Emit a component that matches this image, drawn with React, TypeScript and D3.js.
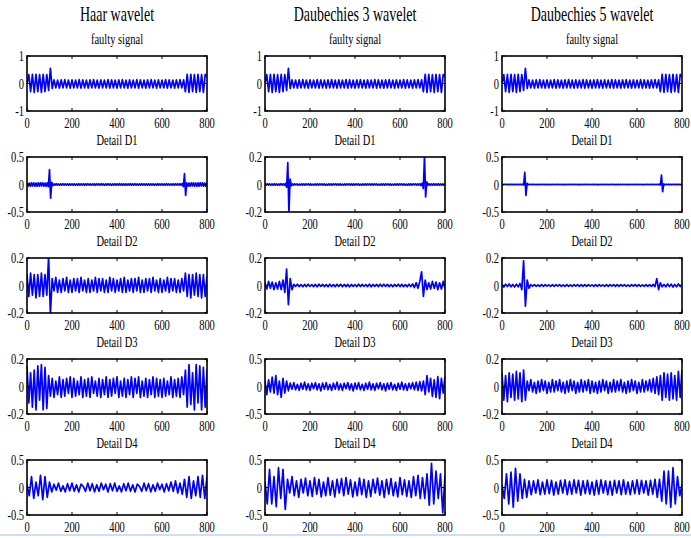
import React from "react";
import * as d3 from "d3";

const columnTitles = ["Haar wavelet", "Daubechies 3 wavelet", "Daubechies 5 wavelet"];
const rowTitles = ["faulty signal", "Detail D1", "Detail D2", "Detail D3", "Detail D4"];
const xTicks = [0, 200, 400, 600, 800];
// y half-range per row (faulty, D1..D4), per column (Haar, db3, db5)
const yLimits = [
  [1, 1, 1],
  [0.5, 0.2, 0.5],
  [0.2, 0.2, 0.2],
  [0.2, 0.5, 0.2],
  [0.5, 0.5, 0.5],
];

const faultySignal = [0,.32,-.3,.33,-.32,.33,-.3,.32,-.32,.33,-.3,.32,-.25,.55,-.18,
.13,-.16,.12,-.17,.13,-.16,.14,-.16,.12,-.17,
.13,-.16,.12,-.16,.14,-.17,.13,-.16,.12,-.17,
.13,-.16,.14,-.16,.12,-.17,.13,-.16,.12,-.16,
.14,-.17,.13,-.16,.12,-.17,.13,-.16,.14,-.16,
.12,-.17,.13,-.16,.12,-.16,.14,-.17,.13,-.16,
.12,-.17,.13,-.16,.14,-.16,.12,-.17,.13,-.16,
.12,-.16,.14,-.17,.13,-.16,.12,-.17,.13,-.16,
.14,-.16,.13,
-.3,.33,-.32,.33,-.3,.32,-.32,.33,-.3,.32,-.32,.33,.25];

const haarD1 = [.03,-.03,.025,-.03,.03,-.025,.03,-.03,.025,-.03,
.03,-.03,.03,-.025,.03,-.03,.025,-.03,.03,-.04,
.27,-.25,.04,-.02,
.012,-.01,.014,-.012,.01,-.013,.012,-.012,.014,-.01,
.012,-.012,.01,-.014,.012,-.01,.013,-.012,.012,-.014,
.01,-.012,.014,-.012,.012,-.01,.013,-.014,.012,-.012,
.014,-.01,.012,-.013,.01,-.012,.012,-.014,.013,-.01,
.012,-.012,.014,-.012,.01,-.013,.012,-.012,.014,-.01,
.012,-.014,.01,-.012,.013,-.012,.012,-.01,.014,-.012,
.01,-.012,.013,-.014,.012,-.01,.012,-.012,.014,-.013,
.012,-.01,.014,-.012,.01,-.013,.012,-.012,.014,-.01,
.012,-.012,.01,-.014,.012,-.01,.013,-.012,.012,-.014,
.01,-.012,.014,-.012,.012,-.01,.013,-.014,.012,-.012,
.014,-.01,.012,-.013,.01,-.012,.012,-.014,.013,-.01,
.014,-.012,.015,-.013,
.02,-.04,
.2,-.2,
.03,-.03,.025,-.03,.03,-.025,.03,-.03,.025,-.03,
.03,-.03,.03,-.025,.03,-.03,.025,-.03,.03];

const haarD2 = [.08,-.08,.09,-.07,.08,-.09,.08,-.08,.09,-.08,.08,-.07,
.21,-.21,
.05,-.04,.06,-.05,.04,-.05,.05,-.04,.06,-.05,
.04,-.05,.05,-.04,.05,-.05,.06,-.04,.04,-.05,
.05,-.05,.04,-.04,.06,-.05,.05,-.04,.05,-.05,
.04,-.05,.06,-.04,.05,-.05,.04,-.04,.05,-.05,
.06,-.05,.04,-.04,.05,-.05,.05,-.04,.06,-.05,
.04,-.05,.05,-.04,.05,-.05,.06,-.04,.04,-.05,
.05,-.05,.04,-.04,.06,-.05,.05,-.04,.05,-.05,
.04,-.05,.05,-.04,
.09,-.08,.08,-.09,.08,-.07,.09,-.08,.08,-.09,.08,-.08,.07];

const haarD3 = [.15,-.12,.1,-.15,.12,-.17,.15,-.1,.16,-.17,.14,-.16,.08,
-.07,.06,-.08,.04,-.06,.07,-.08,.05,-.07,.06,
-.05,.07,-.08,.06,-.07,.04,-.06,.07,-.08,.05,
-.07,.06,-.08,.07,-.05,.04,-.07,.06,-.08,.05,
-.06,.07,-.08,.05,-.07,.06,-.05,.07,-.08,.04,
-.07,.06,-.08,.05,-.06,.07,-.08,.06,-.05,.07,
-.08,.04,-.07,.06,-.08,.05,-.06,.07,-.08,.06,
-.07,.05,-.08,.06,-.07,.04,-.06,.07,-.08,.05,
-.07,.06,-.08,.07,-.06,
.12,-.15,.16,-.13,.1,-.17,.16,-.12,.15,-.17,.14,-.15,.12];

const haarD4 = [.05,-.15,.2,-.2,.1,-.15,.22,-.22,.2,-.18,.1,
-.08,.06,-.05,.08,-.07,.03,-.08,.07,-.06,.08,
-.07,.05,-.08,.06,.02,-.07,.08,-.06,.07,-.08,
.05,-.07,.08,-.04,.06,-.08,.07,-.06,.08,-.07,
.03,-.08,.07,-.06,.08,-.07,.05,-.08,.06,.02,
-.07,.08,-.06,.07,-.08,.05,-.07,.08,-.04,.06,
-.08,.07,-.06,.1,-.07,.12,-.1,.08,-.12,
.15,-.18,.2,-.2,.12,-.15,.2,-.18,.22,-.2,.2];

const db3D1 = [.005,-.005,.006,-.004,.005,-.006,.004,-.005,.006,-.005,
.005,-.006,.004,-.005,.006,-.004,.005,-.006,.008,-.02,
.16,-.21,.04,-.01,
.004,-.004,.005,-.003,.004,-.004,.003,-.005,.004,-.004,
.005,-.004,.004,-.003,.004,-.005,.004,-.004,.003,-.004,
.004,-.005,.004,-.004,.005,-.003,.004,-.004,.004,-.005,
.003,-.004,.004,-.004,.005,-.004,.004,-.003,.004,-.004,
.005,-.004,.004,-.005,.003,-.004,.004,-.004,.005,-.003,
.004,-.004,.004,-.005,.004,-.004,.005,-.003,.004,-.004,
.003,-.005,.004,-.004,.005,-.004,.004,-.003,.004,-.005,
.004,-.004,.005,-.003,.004,-.004,.003,-.005,.004,-.004,
.005,-.004,.004,-.003,.004,-.005,.004,-.004,.003,-.004,
.004,-.005,.004,-.004,.005,-.003,.004,-.004,.004,-.005,
.003,-.004,.004,-.004,.005,-.004,.004,-.003,.004,-.004,
.005,-.004,.006,-.008,
.01,-.03,
.21,-.09,.02,-.006,.005,-.006,.005,-.005,.006,-.005,
.004,-.005,.006,-.005,.005,-.006,.004,-.005,.005];

const db3D2 = [.02,-.025,.03,-.02,.025,-.03,.02,-.025,.03,-.03,.04,
-.05,.12,-.14,.05,-.03,
.008,-.007,.009,-.008,.007,-.009,.008,-.008,.009,-.007,
.007,-.008,.008,-.009,.009,-.007,.008,-.008,.007,-.009,
.009,-.008,.007,-.008,.008,-.007,.009,-.009,.008,-.008,
.008,-.009,.008,-.007,.007,-.008,.009,-.008,.008,-.007,
.007,-.008,.009,-.009,.008,-.007,.008,-.008,.009,-.008,
.009,-.007,.008,-.008,.007,-.009,.008,-.007,.009,-.008,
.008,-.008,.007,-.009,.009,-.008,.012,-.015,.02,-.02,
.03,.1,-.08,.04,-.03,
.02,-.025,.03,-.02,.025,-.03,.02,-.025,.03,-.02];

const db3D3 = [.1,-.15,.12,-.1,.17,-.12,.2,-.15,.1,-.2,.15,-.12,.1,-.08,
.06,-.05,.07,-.06,.04,-.07,.06,-.05,.08,-.06,
.05,-.07,.06,-.04,.07,-.06,.05,-.08,.06,-.05,
.07,-.06,.04,-.07,.06,-.05,.08,-.06,.05,-.07,
.06,-.04,.07,-.06,.05,-.08,.06,-.05,.07,-.06,
.04,-.07,.06,-.05,.08,-.06,.05,-.07,.06,-.04,
.07,-.06,.05,-.08,.06,-.05,.07,-.06,.04,-.07,
.06,-.05,.08,-.06,.05,-.07,.06,-.04,.07,-.06,
.08,-.07,.09,-.08,
.1,-.15,.2,-.1,.15,-.18,.12,-.2,.18,-.22,.15,-.12,.18];

const db3D4 = [.1,-.3,.33,-.3,.2,-.35,.36,-.2,.33,-.4,.15,-.1,.2,
-.15,.12,-.18,.15,-.1,.17,-.15,.12,-.16,.18,
-.12,.15,-.17,.1,-.15,.18,-.14,.12,-.17,.15,
-.1,.16,-.15,.18,-.12,.14,-.17,.1,-.15,.17,
-.13,.15,-.18,.12,-.16,.15,-.1,.17,-.14,.12,
-.18,.15,-.12,.16,-.15,.1,-.17,.18,-.13,.14,
-.16,.12,-.18,.2,-.15,.22,-.2,
.18,-.2,.25,-.32,.44,-.3,.3,-.2,.25,-.46,.22];

const db5D1 = [.005,-.005,.006,-.004,.005,-.006,.004,-.005,.006,-.005,
.005,-.006,.004,-.005,.006,-.004,.005,-.006,.006,-.01,
.22,-.2,.02,-.006,
.004,-.004,.005,-.003,.004,-.004,.003,-.005,.004,-.004,
.005,-.004,.004,-.003,.004,-.005,.004,-.004,.003,-.004,
.004,-.005,.004,-.004,.005,-.003,.004,-.004,.004,-.005,
.003,-.004,.004,-.004,.005,-.004,.004,-.003,.004,-.004,
.005,-.004,.004,-.005,.003,-.004,.004,-.004,.005,-.003,
.004,-.004,.004,-.005,.004,-.004,.005,-.003,.004,-.004,
.003,-.005,.004,-.004,.005,-.004,.004,-.003,.004,-.005,
.004,-.004,.005,-.003,.004,-.004,.003,-.005,.004,-.004,
.005,-.004,.004,-.003,.004,-.005,.004,-.004,.003,-.004,
.004,-.005,.004,-.004,.005,-.003,.004,-.004,.004,-.005,
.003,-.004,.004,-.004,.005,-.004,.004,-.003,.004,-.004,
.005,-.004,.004,-.006,
.006,-.01,
.17,-.13,.01,-.006,.005,-.006,.005,-.005,.006,-.005,
.004,-.005,.006,-.005,.005,-.006,.004,-.005,.005];

const db5D2 = [.01,-.012,.01,-.008,.012,-.01,.008,-.012,.01,-.01,.015,
-.03,.18,-.15,.04,-.02,
.006,-.005,.007,-.006,.005,-.007,.006,-.006,.007,-.005,
.005,-.006,.006,-.007,.007,-.005,.006,-.006,.005,-.007,
.007,-.006,.005,-.006,.006,-.005,.007,-.007,.006,-.006,
.006,-.007,.006,-.005,.005,-.006,.007,-.006,.006,-.005,
.005,-.006,.007,-.007,.006,-.005,.006,-.006,.007,-.006,
.007,-.005,.006,-.006,.005,-.007,.006,-.005,.007,-.006,
.006,-.006,.005,-.007,.007,-.006,.006,-.007,.008,-.008,
.05,-.03,.02,-.01,
.008,-.01,.012,-.008,.01,-.012,.008,-.01,.012,-.008,.01];

const db5D3 = [.1,-.1,.08,-.11,.1,-.08,.09,-.1,.11,-.09,.1,-.11,.12,-.1,
.04,-.03,.05,-.04,.03,-.05,.04,-.04,.05,-.03,
.04,-.05,.03,-.04,.05,-.04,.04,-.03,.05,-.04,
.03,-.05,.04,-.04,.05,-.03,.04,-.05,.03,-.04,
.05,-.04,.04,-.03,.05,-.05,.04,-.04,.03,-.05,
.04,-.04,.05,-.03,.04,-.05,.03,-.04,.05,-.04,
.04,-.03,.05,-.04,.03,-.05,.04,-.04,.05,-.03,
.04,-.05,.03,-.04,.05,-.04,.04,-.03,.05,-.04,
.06,-.05,.07,-.06,
.08,-.1,.1,-.08,.09,-.1,.1,-.09,.08,-.1,.11,-.08,.12];

const db5D4 = [.05,-.2,.25,-.3,.28,-.36,.35,-.25,.25,-.2,.15,-.18,.12,
-.13,.12,-.1,.14,-.13,.1,-.12,.14,-.11,.13,
-.14,.1,-.12,.13,-.1,.14,-.13,.11,-.12,.14,
-.1,.13,-.14,.12,-.11,.13,-.12,.1,-.14,.13,
-.12,.14,-.1,.12,-.13,.11,-.14,.13,-.1,.12,
-.13,.14,-.12,.1,-.13,.12,-.11,.14,-.12,.13,
-.1,.12,-.14,.13,-.12,.15,-.18,
.15,-.25,.3,-.3,.3,-.36,.36,-.3,.2,-.15,.05];

const columnSeries = [
  [faultySignal, haarD1, haarD2, haarD3, haarD4],
  [faultySignal, db3D1, db3D2, db3D3, db3D4],
  [faultySignal, db5D1, db5D2, db5D3, db5D4],
];

// layout
const WIDTH = 691;
const HEIGHT = 538;
const colLeft = [27, 265, 502];
const plotW = 180;
const rowTop = [56, 157, 258, 359, 460];
const plotH = 55;
const SQX = 0.7;
const FONT = "'Liberation Serif', 'Times New Roman', serif";
const TICK_SIZE = 15;
const SUB_SIZE = 15;

function Txt({ x, y, size, anchor, children }: { x: number; y: number; size: number; anchor: string; children: any }) {
  return (
    <text
      transform={`translate(${x},${y}) scale(${SQX},1)`}
      fontSize={size}
      textAnchor={anchor}
      fontFamily={FONT}
      fill="#000"
    >
      {children}
    </text>
  );
}

function Panel({ ci, ri }: { ci: number; ri: number }) {
  const data = columnSeries[ci][ri];
  const lim = yLimits[ri][ci];
  const x0 = colLeft[ci];
  const y0 = rowTop[ri];
  const x = d3.scaleLinear().domain([0, 800]).range([x0, x0 + plotW]);
  const y = d3.scaleLinear().domain([-lim, lim]).range([y0 + plotH, y0]);
  const step = 800 / (data.length - 1);
  const line = d3
    .line<number>()
    .x((_, i) => x(i * step))
    .y((d) => y(d));
  const id = `clip-${ci}-${ri}`;
  const yTicks = [lim, 0, -lim];
  return (
    <g>
      <clipPath id={id}>
        <rect x={x0} y={y0} width={plotW} height={plotH} />
      </clipPath>
      <path
        d={line(data) || ""}
        fill="none"
        stroke="#0000ff"
        strokeWidth={1.7}
        strokeLinejoin="round"
        clipPath={`url(#${id})`}
      />
      {xTicks.map((t) => (
        <g key={"x" + t}>
          <line x1={x(t)} x2={x(t)} y1={y0} y2={y0 + 3} stroke="#000" strokeWidth={1} />
          <line x1={x(t)} x2={x(t)} y1={y0 + plotH} y2={y0 + plotH - 3} stroke="#000" strokeWidth={1} />
          <Txt x={x(t)} y={y0 + plotH + 16.5} size={TICK_SIZE} anchor="middle">
            {String(t)}
          </Txt>
        </g>
      ))}
      {yTicks.map((t) => (
        <g key={"y" + t}>
          <line x1={x0} x2={x0 + 3} y1={y(t)} y2={y(t)} stroke="#000" strokeWidth={1} />
          <line x1={x0 + plotW} x2={x0 + plotW - 3} y1={y(t)} y2={y(t)} stroke="#000" strokeWidth={1} />
          <Txt x={x0 - 3} y={y(t) + 5} size={TICK_SIZE} anchor="end">
            {String(t)}
          </Txt>
        </g>
      ))}
      <rect x={x0} y={y0} width={plotW} height={plotH} fill="none" stroke="#000" strokeWidth={1.6} />
      <Txt x={x0 + plotW / 2} y={y0 - 12} size={SUB_SIZE} anchor="middle">
        {rowTitles[ri]}
      </Txt>
    </g>
  );
}

export default function App() {
  return (
    <svg
      width={WIDTH}
      height={HEIGHT}
      style={{ position: "absolute", left: 0, top: 0, display: "block", background: "#fff" }}
    >
      <rect x={0} y={0} width={WIDTH} height={HEIGHT} fill="#fff" />
      {columnTitles.map((t, ci) => (
        <Txt key={t} x={colLeft[ci] + plotW / 2} y={21} size={20} anchor="middle">
          {t}
        </Txt>
      ))}
      {columnTitles.map((_, ci) =>
        rowTitles.map((_, ri) => <Panel key={ci + "-" + ri} ci={ci} ri={ri} />)
      )}
      <line x1={0} x2={WIDTH} y1={535} y2={535} stroke="#cfe0f3" strokeWidth={2} />
    </svg>
  );
}
